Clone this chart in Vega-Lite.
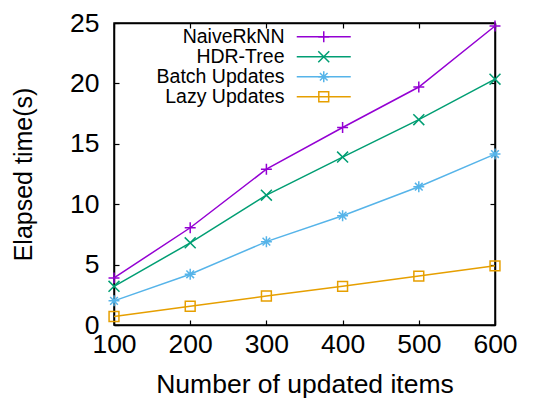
{
  "$schema": "https://vega.github.io/schema/vega-lite/v6.json",
  "width": 381,
  "height": 302,
  "autosize": {"type": "none"},
  "padding": {"left": 114, "top": 23, "right": 40, "bottom": 77},
  "config": {
    "view": {"stroke": "black", "strokeWidth": 1.5},
    "font": "Liberation Sans",
    "axis": {
      "grid": false,
      "domainColor": "black",
      "domainWidth": 1.5,
      "tickColor": "black",
      "tickWidth": 1.2,
      "tickSize": -5,
      "labelColor": "black",
      "titleColor": "black",
      "titleFontWeight": "normal",
      "labelFont": "Liberation Sans",
      "titleFont": "Liberation Sans",
      "labelFlush": false,
      "labelOverlap": false
    },
    "legend": {"labelFont": "Liberation Sans"}
  },
  "data": {
    "values": [
      {"series": "NaiveRkNN", "x": 100, "y": 3.9},
      {"series": "NaiveRkNN", "x": 200, "y": 8.05},
      {"series": "NaiveRkNN", "x": 300, "y": 12.9},
      {"series": "NaiveRkNN", "x": 400, "y": 16.35},
      {"series": "NaiveRkNN", "x": 500, "y": 19.7},
      {"series": "NaiveRkNN", "x": 600, "y": 24.75},
      {"series": "HDR-Tree", "x": 100, "y": 3.2},
      {"series": "HDR-Tree", "x": 200, "y": 6.8},
      {"series": "HDR-Tree", "x": 300, "y": 10.75},
      {"series": "HDR-Tree", "x": 400, "y": 13.9},
      {"series": "HDR-Tree", "x": 500, "y": 17.0},
      {"series": "HDR-Tree", "x": 600, "y": 20.35},
      {"series": "Batch Updates", "x": 100, "y": 2.0},
      {"series": "Batch Updates", "x": 200, "y": 4.2},
      {"series": "Batch Updates", "x": 300, "y": 6.9},
      {"series": "Batch Updates", "x": 400, "y": 9.05},
      {"series": "Batch Updates", "x": 500, "y": 11.45},
      {"series": "Batch Updates", "x": 600, "y": 14.15},
      {"series": "Lazy Updates", "x": 100, "y": 0.7},
      {"series": "Lazy Updates", "x": 200, "y": 1.55},
      {"series": "Lazy Updates", "x": 300, "y": 2.4},
      {"series": "Lazy Updates", "x": 400, "y": 3.2},
      {"series": "Lazy Updates", "x": 500, "y": 4.05},
      {"series": "Lazy Updates", "x": 600, "y": 4.9}
    ]
  },
  "layer": [
    {
      "mark": {"type": "line", "strokeWidth": 1.5},
      "encoding": {
        "x": {
          "field": "x", "type": "quantitative",
          "scale": {"domain": [100, 600], "nice": false},
          "axis": {"orient": "bottom", "values": [100, 200, 300, 400, 500, 600], "title": "Number of updated items", "labelFontSize": 26.5, "titleFontSize": 26.5, "labelPadding": 11, "titlePadding": 14}
        },
        "y": {
          "field": "y", "type": "quantitative",
          "scale": {"domain": [0, 25], "nice": false},
          "axis": {"orient": "left", "values": [0, 5, 10, 15, 20, 25], "title": "Elapsed time(s)", "labelFontSize": 26.5, "titleFontSize": 25, "labelPadding": 20, "titlePadding": 33}
        },
        "stroke": {
          "field": "series", "type": "nominal",
          "sort": ["NaiveRkNN", "HDR-Tree", "Batch Updates", "Lazy Updates"],
          "scale": {"range": ["#9400d3", "#009e73", "#56b4e9", "#e69f00"]},
          "legend": {
            "orient": "none", "legendX": 200, "legendY": 4, "title": null,
            "padding": 0, "rowPadding": -8,
            "symbolType": "M-5.4,0H5.4", "symbolSize": 100, "symbolStrokeWidth": 1.5, "symbolFillColor": "transparent",
            "labelAlign": "right", "labelOffset": -49, "labelFontSize": 19.5, "labelColor": "black", "labelLimit": 300
          }
        }
      }
    },
    {
      "mark": {"type": "point", "filled": false, "strokeWidth": 1.5, "size": 120, "opacity": 1},
      "encoding": {
        "x": {"field": "x", "type": "quantitative", "axis": {"orient": "top", "labels": false, "title": null, "values": [100, 200, 300, 400, 500, 600]}},
        "y": {"field": "y", "type": "quantitative", "axis": {"orient": "right", "labels": false, "title": null, "values": [0, 5, 10, 15, 20, 25]}},
        "color": {
          "field": "series", "type": "nominal",
          "scale": {"domain": ["NaiveRkNN", "HDR-Tree", "Batch Updates", "Lazy Updates"], "range": ["#9400d3", "#009e73", "#56b4e9", "#e69f00"]},
          "legend": {
            "orient": "none", "legendX": 200, "legendY": 4, "title": null,
            "padding": 0, "rowPadding": -8, "symbolSize": 120, "symbolStrokeWidth": 1.5,
            "labelFontSize": 19.5, "labelOpacity": 0
          }
        },
        "shape": {
          "field": "series", "type": "nominal",
          "scale": {"domain": ["NaiveRkNN", "HDR-Tree", "Batch Updates", "Lazy Updates"], "range": ["M-1,0H1M0,-1V1", "M-1,-1L1,1M-1,1L1,-1", "M-1,0H1M0,-1V1M-0.7,-0.7L0.7,0.7M-0.7,0.7L0.7,-0.7", "M-0.9,-0.9H0.9V0.9H-0.9Z"]},
          "legend": {
            "orient": "none", "legendX": 200, "legendY": 4, "title": null,
            "padding": 0, "rowPadding": -8, "symbolSize": 120, "symbolStrokeWidth": 1.5,
            "labelFontSize": 19.5, "labelOpacity": 0
          }
        }
      }
    }
  ],
  "resolve": {"axis": {"x": "independent", "y": "independent"}}
}
